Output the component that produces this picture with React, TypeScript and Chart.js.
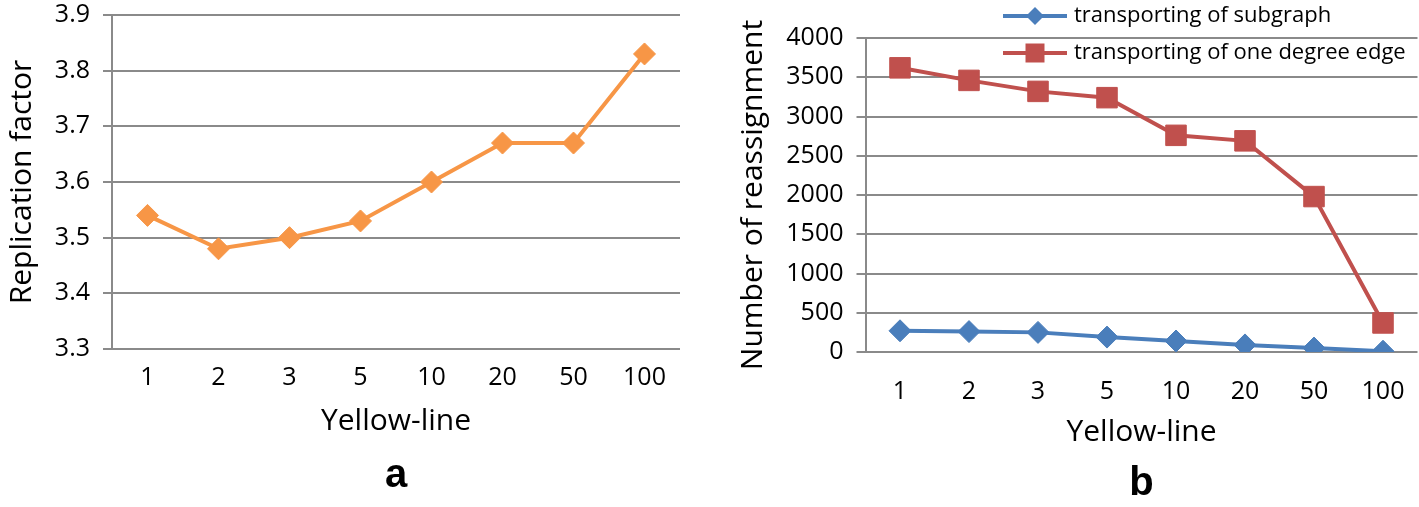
import React, { useEffect, useRef } from 'react';
import { Chart, registerables } from 'chart.js';

Chart.register(...registerables);

// ---------- data ----------
const categories = ['1', '2', '3', '5', '10', '20', '50', '100'];
const replicationFactor = [3.54, 3.48, 3.5, 3.53, 3.6, 3.67, 3.67, 3.83];
const subgraphSeries = [270, 260, 250, 190, 140, 90, 50, 10];
const oneDegreeSeries = [3620, 3460, 3320, 3240, 2760, 2690, 1980, 370];
const seriesNames = ['transporting of subgraph', 'transporting of one degree edge'];
const leftAxis = { min: 3.3, max: 3.9, step: 0.1 };
const rightAxis = { min: 0, max: 4000, step: 500 };

const ORANGE = '#F79646';
const BLUE = '#4A7EBB';
const RED = '#C0504D';
const GRID = '#8A8A8A';
const FONT = 'Open Sans';

function makeIcon(color: string, kind: 'diamond' | 'square'): HTMLCanvasElement {
  const c = document.createElement('canvas');
  c.width = 66;
  c.height = 22;
  const ctx = c.getContext('2d')!;
  ctx.strokeStyle = color;
  ctx.fillStyle = color;
  ctx.lineWidth = 4;
  ctx.beginPath();
  ctx.moveTo(1, 11);
  ctx.lineTo(65, 11);
  ctx.stroke();
  ctx.beginPath();
  if (kind === 'diamond') {
    ctx.moveTo(33, 2);
    ctx.lineTo(42, 11);
    ctx.lineTo(33, 20);
    ctx.lineTo(24, 11);
    ctx.closePath();
  } else {
    ctx.rect(23.5, 1.5, 19, 19);
  }
  ctx.fill();
  return c;
}

type Cfg = {
  yMin: number; yMax: number; yStep: number; yTitle: string; yWidth: number;
  xHeight: number; xTickPad: number; xTitlePad: number; bottomTitle: string;
  padTop: number; padRight: number; padBottom: number; yTitlePad: number;
};

function baseOptions(c: Cfg): any {
  return {
    responsive: false,
    animation: false,
    devicePixelRatio: 1,
    layout: { autoPadding: false, padding: { top: c.padTop, left: 0, right: c.padRight, bottom: c.padBottom } },
    scales: {
      x: {
        type: 'category',
        offset: true,
        grid: { display: false },
        border: { display: false },
        ticks: { color: '#000', font: { family: FONT, size: 25 }, padding: c.xTickPad, maxRotation: 0 },
        title: {
          display: true, text: 'Yellow-line', color: '#000',
          font: { family: FONT, size: 30 }, padding: { top: 0, bottom: c.xTitlePad },
        },
        afterFit: (s: any) => { s.height = c.xHeight; s.paddingLeft = 0; s.paddingRight = 0; },
      },
      y: {
        min: c.yMin, max: c.yMax,
        grid: { color: GRID, lineWidth: 2, drawTicks: true, tickLength: 9 },
        border: { display: true, color: GRID, width: 2 },
        ticks: {
          stepSize: c.yStep, color: '#000', font: { family: FONT, size: 25 }, padding: 13,
          callback: (v: any) => (c.yStep < 1 ? Number(v).toFixed(1) : String(v)),
        },
        title: {
          display: true, text: c.yTitle, color: '#000',
          font: { family: FONT, size: 30 }, padding: { top: c.yTitlePad, bottom: 0 },
        },
        afterFit: (s: any) => { s.width = c.yWidth; s.paddingTop = 0; s.paddingBottom = 0; },
      },
    },
    plugins: {
      tooltip: { enabled: false },
      title: {
        display: true, text: c.bottomTitle, position: 'bottom', fullSize: false,
        color: '#000', font: { family: 'Liberation Sans', size: 40, weight: 'bold', lineHeight: 1 },
        padding: { top: 0, bottom: 0 },
      },
      legend: { display: false },
    },
  };
}

export default function App() {
  const leftRef = useRef<HTMLCanvasElement>(null);
  const rightRef = useRef<HTMLCanvasElement>(null);

  useEffect(() => {
    document.body.style.margin = '0';
    const leftOpts = baseOptions({
      yMin: leftAxis.min, yMax: leftAxis.max, yStep: leftAxis.step, yTitle: 'Replication factor',
      yWidth: 112, xHeight: 107, xTickPad: 6, xTitlePad: 17, bottomTitle: 'a',
      padTop: 15, padRight: 40, padBottom: 11, yTitlePad: 4,
    });
    const left = new Chart(leftRef.current!, {
      type: 'line',
      data: {
        labels: categories,
        datasets: [{
          label: 'Replication factor',
          data: replicationFactor,
          borderColor: ORANGE, backgroundColor: ORANGE, borderWidth: 4,
          pointStyle: 'rectRot', pointRadius: 11, pointBorderWidth: 1,
          pointBackgroundColor: ORANGE, pointBorderColor: ORANGE, tension: 0,
        }],
      },
      options: leftOpts,
    });

    const icons = [makeIcon(BLUE, 'diamond'), makeIcon(RED, 'square')];
    const rightOpts = baseOptions({
      yMin: rightAxis.min, yMax: rightAxis.max, yStep: rightAxis.step, yTitle: 'Number of reassignment',
      yWidth: 145.5, xHeight: 112, xTickPad: 17, xTitlePad: 13.5, bottomTitle: 'b',
      padTop: 38, padRight: 1.5, padBottom: 3, yTitlePad: 15,
    });
    rightOpts.plugins.legend = {
      display: true,
      position: 'chartArea',
      align: 'start',
      labels: {
        usePointStyle: true,
        pointStyleWidth: 56,
        boxHeight: 22,
        padding: 15,
        color: '#000',
        font: { family: FONT, size: 22 },
        generateLabels: (chart: any) => {
          const items = (Chart.defaults.plugins.legend.labels as any).generateLabels(chart);
          items.forEach((it: any, i: number) => { it.pointStyle = icons[i]; });
          return items;
        },
      },
    };
    const legendPlace = {
      id: 'legendPlace',
      afterLayout(chart: any) {
        const lg = chart.legend;
        if (!lg) return;
        lg.left = 272;
        lg.top = -10;
        lg.right = 272 + 420;
        lg.bottom = -10 + 300;
      },
    };
    const right = new Chart(rightRef.current!, {
      type: 'line',
      data: {
        labels: categories,
        datasets: [
          {
            label: seriesNames[0],
            data: subgraphSeries,
            borderColor: BLUE, backgroundColor: BLUE, borderWidth: 4,
            pointStyle: 'rectRot', pointRadius: 11, pointBorderWidth: 1,
            pointBackgroundColor: BLUE, pointBorderColor: BLUE, tension: 0,
          },
          {
            label: seriesNames[1],
            data: oneDegreeSeries,
            borderColor: RED, backgroundColor: RED, borderWidth: 4,
            pointStyle: 'rect', pointRadius: 14.5, pointBorderWidth: 1,
            pointBackgroundColor: RED, pointBorderColor: RED, tension: 0,
          },
        ],
      },
      options: rightOpts,
      plugins: [legendPlace],
    });

    return () => {
      left.destroy();
      right.destroy();
    };
  }, []);

  return (
    <div style={{ position: 'absolute', left: 0, top: 0, width: 1419, height: 507, background: '#fff' }}>
      <canvas ref={leftRef} width={720} height={507}
        style={{ position: 'absolute', left: 0, top: 0, width: 720, height: 507 }} />
      <canvas ref={rightRef} width={699} height={507}
        style={{ position: 'absolute', left: 720, top: 0, width: 699, height: 507 }} />
    </div>
  );
}
